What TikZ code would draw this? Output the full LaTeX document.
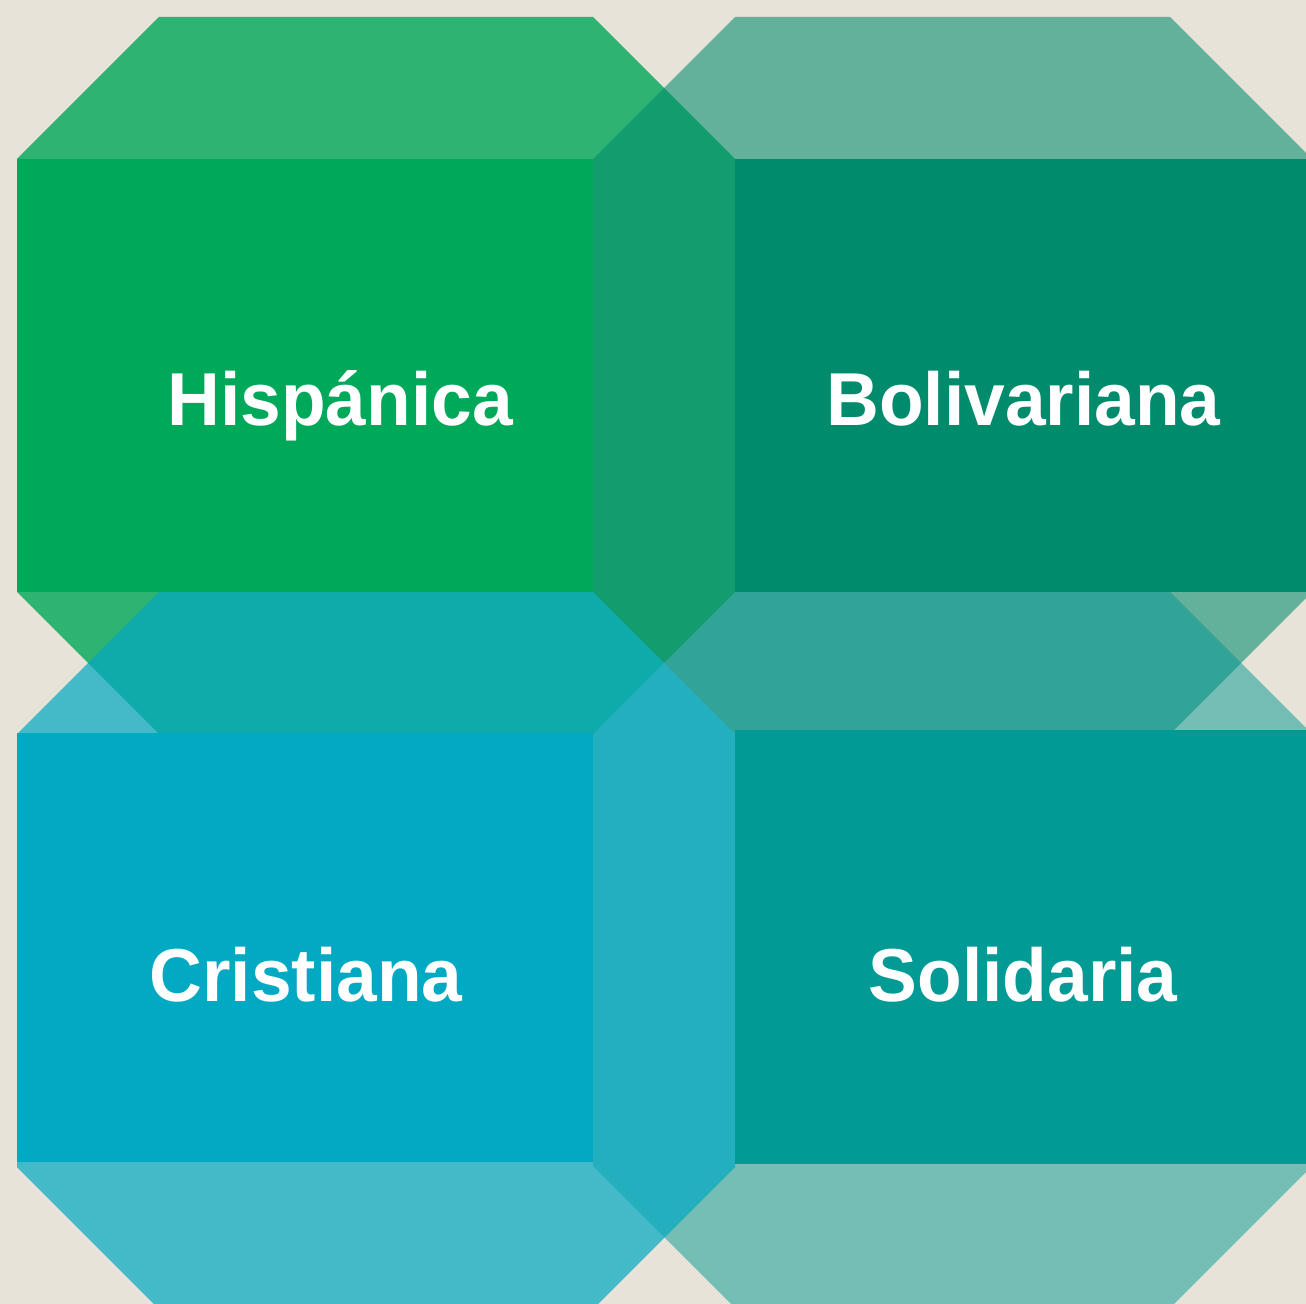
\documentclass[tikz,border=0pt]{standalone}
\usepackage{fontspec}
\setmainfont{Liberation Sans}
\definecolor{bgc}{HTML}{E7E3D9}
\definecolor{tlc}{HTML}{00A859}
\definecolor{trc}{HTML}{008B6C}
\definecolor{blc}{HTML}{02A9C2}
\definecolor{brc}{HTML}{029A95}
\newcommand{\narrowtxt}[1]{\scalebox{0.975}[1]{#1}}
\begin{document}
\begin{tikzpicture}[x=0.5pt,y=-0.5pt,
  lbl/.style={text=white,font=\bfseries\fontsize{37.5}{40}\selectfont,inner sep=0pt,anchor=base},
  octa/.style={fill=#1},
  face/.style={fill=#1}]
\useasboundingbox (0,0) rectangle (1306,1304);
\fill[bgc] (0,0) rectangle (1306,1304);
\clip (0,0) rectangle (1306,1304);
% octagons (translucent), drawn in order TL, TR, BR, BL
\fill[octa=tlc, fill opacity=0.8] (17,159)--(159,17)--(593,17)--(735,159)--(735,592)--(593,734)--(159,734)--(17,592)--cycle;
\fill[octa=trc, fill opacity=0.57] (593,159)--(735,17)--(1170,17)--(1312,159)--(1312,592)--(1170,734)--(735,734)--(593,592)--cycle;
\fill[octa=brc, fill opacity=0.5] (593,734)--(735,592)--(1170,592)--(1312,734)--(1312,1166)--(1170,1308)--(735,1308)--(593,1166)--cycle;
\fill[octa=blc, fill opacity=0.71] (17,734)--(159,592)--(593,592)--(735,734)--(735,1167)--(593,1309)--(159,1309)--(17,1167)--cycle;
% opaque faces
\fill[face=tlc] (17,159) rectangle (593,592);
\fill[face=trc] (735,159) rectangle (1312,592);
\fill[face=blc] (17,733) rectangle (593,1162);
\fill[face=brc] (735,730) rectangle (1312,1164);
% labels
\node[lbl] (his) at (340,426) {\narrowtxt{Hispánica}};
\node[lbl] (bol) at (1023.5,426) {\narrowtxt{Bolivariana}};
\node[lbl] (cri) at (306,1001) {\narrowtxt{Cristiana}};
\node[lbl] (sol) at (1023,1001) {\narrowtxt{Solidaria}};
\end{tikzpicture}
\end{document}
